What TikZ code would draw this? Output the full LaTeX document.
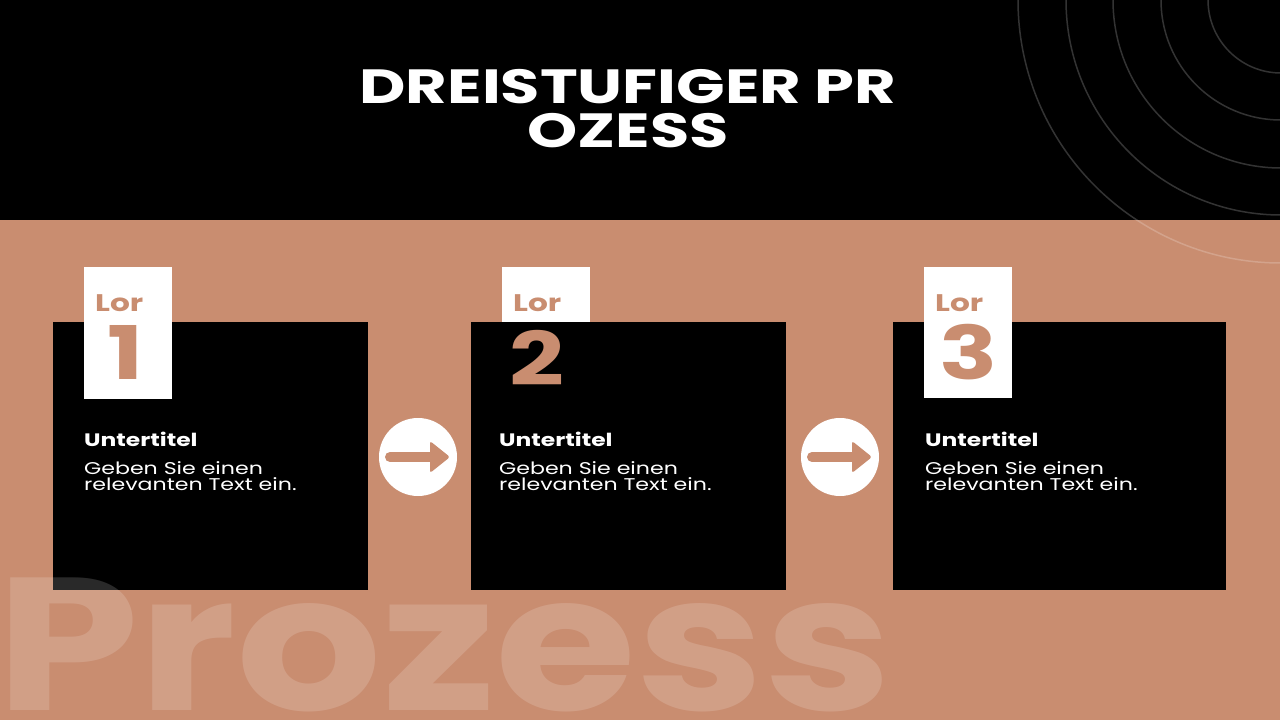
\documentclass[tikz,border=0pt]{standalone}
\usepackage{fontspec}
\setmainfont{Poppins}
\newfontfamily\widefont{Poppins}[FakeStretch=1.3]
\newfontfamily\titlefont{Poppins}[FakeStretch=1.33]
\newfontfamily\heavyfont{Poppins}[FakeStretch=1.21]
\usetikzlibrary{positioning}
\definecolor{copper}{HTML}{C98D70}

\tikzset{
  card/.style={fill=black, inner sep=0pt, anchor=north west, minimum height=268pt},
  tabbox/.style={fill=white, inner sep=0pt, anchor=north west, minimum width=88pt, minimum height=132pt},
  lortext/.style={text=copper, inner sep=0pt, anchor=base west, font=\widefont\bfseries\fontsize{24}{24}\selectfont},
  numtext/.style={text=copper, inner sep=0pt, anchor=base, font=\widefont\bfseries\fontsize{74}{74}\selectfont},
  subtext/.style={text=white, inner sep=0pt, anchor=base west, font=\widefont\bfseries\fontsize{18}{18}\selectfont},
  bodytext/.style={text=white, inner sep=0pt, anchor=base west, align=left, font=\widefont\fontsize{17}{15.5}\selectfont},
  titletext/.style={text=white, inner sep=0pt, anchor=base, font=\titlefont\bfseries\fontsize{48}{44}\selectfont},
  nextcirc/.style={circle, fill=white, minimum size=78pt, inner sep=0pt},
  ring/.style={draw=white, draw opacity=0.2, line width=1.5pt},
  watermark/.style={text=white, text opacity=0.16, inner sep=0pt, anchor=base west, font=\heavyfont\bfseries\fontsize{189}{189}\selectfont},
}

\begin{document}
\begin{tikzpicture}[x=1pt,y=-1pt]
  \useasboundingbox (0,0) rectangle (1280,720);
  % background
  \fill[copper] (0,0) rectangle (1280,720);
  \fill[black] (0,0) rectangle (1280,220);
  \begin{scope}
    \clip (0,0) rectangle (1280,720);
    \foreach \r in {73,120,168,215,263}
      \draw[ring] (1281,0) circle[radius=\r pt];
  \end{scope}
  % title
  \node[titletext] (title1) at (628,103) {DREISTUFIGER PR};
  \node[titletext] (title2) at ([yshift=-44pt]title1.base) {OZESS};
  % cards (tab 2 sits behind its card)
  \node[tabbox] (tab2) at (502,267) {};
  \node[card, minimum width=315pt] (card1) at (53,322) {};
  \node[card, minimum width=315pt] (card2) at (471,322) {};
  \node[card, minimum width=333pt] (card3) at (893,322) {};
  \node[tabbox] (tab1) at (84,267) {};
  \node[tabbox, minimum height=131pt] (tab3) at (924,267) {};
  \foreach \i in {1,2,3}
    \node[lortext] (lor\i) at ([xshift=11pt,yshift=-44pt]tab\i.north west) {Lor};
  \node[numtext] (num1) at (126,379) {1};
  \node[numtext] (num2) at (537,385) {2};
  \node[numtext] (num3) at (969,379) {3};
  \foreach \i/\x in {1/84,2/499,3/925} {
    \node[subtext] (sub\i) at (\x,446) {Untertitel};
    \node[bodytext] (body\i) at (\x,490) {Geben Sie einen\\relevanten Text ein.};
  }
  % arrows between the steps
  \foreach \i/\x in {1/418,2/840} {
    \node[nextcirc] (next\i) at (\x,457) {};
    \draw[copper, line width=10pt, line cap=round] ([xshift=-28pt]next\i.center) -- ([xshift=18pt]next\i.center);
    \fill[copper, rounded corners=2.5pt] ([xshift=12pt,yshift=16pt]next\i.center) -- ([xshift=32pt]next\i.center)
      -- ([xshift=12pt,yshift=-16pt]next\i.center) -- cycle;
  }
  % watermark
  \node[watermark] (wm) at (-4,710) {Prozess};
\end{tikzpicture}
\end{document}
